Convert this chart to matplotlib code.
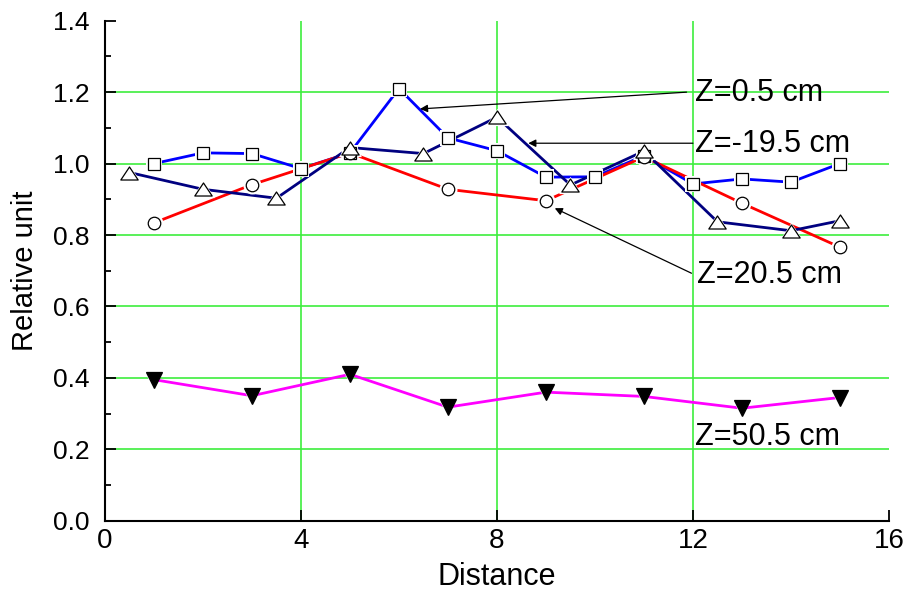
import matplotlib
matplotlib.use("Agg")
import matplotlib.pyplot as plt
from matplotlib.path import Path
from matplotlib.ticker import MultipleLocator, FormatStrFormatter

plt.rcParams['font.family'] = ['Liberation Sans', 'DejaVu Sans']

# Z = 0.5 cm (squares)
x_sq = [1, 2, 3, 4, 5, 6, 7, 8, 9, 10, 11, 12, 13, 14, 15]
y_sq = [1.00, 1.03, 1.028, 0.986, 1.03, 1.21, 1.072, 1.036, 0.962, 0.963, 1.022, 0.943, 0.957, 0.948, 1.00]

# Z = 20.5 cm (circles)
x_ci = [1, 3, 5, 7, 9, 11, 13, 15]
y_ci = [0.834, 0.941, 1.03, 0.928, 0.896, 1.019, 0.889, 0.766]

# Z = -19.5 cm (triangles)
x_tr = [0.5, 2, 3.5, 5, 6.5, 8, 9.5, 11, 12.5, 14, 15]
y_tr = [0.975, 0.928, 0.903, 1.045, 1.028, 1.13, 0.94, 1.035, 0.837, 0.812, 0.84]

# Z = 50.5 cm (filled down triangles)
x_dn = [1, 3, 5, 7, 9, 11, 13, 15]
y_dn = [0.395, 0.35, 0.41, 0.318, 0.36, 0.348, 0.315, 0.345]

fig = plt.figure(figsize=(9.08, 5.92), dpi=100)
ax = fig.add_axes([0.1156, 0.1204, 0.8634, 0.8446])

ax.set_xlim(0, 16)
ax.set_ylim(0, 1.4)

# grid lines at interior major ticks
grid_kw = dict(color='#3DEE3D', lw=1.2, zorder=1)
for gx in (4, 8, 12):
    ax.axvline(gx, **grid_kw)
for gy in (0.2, 0.4, 0.6, 0.8, 1.0, 1.2):
    ax.axhline(gy, **grid_kw)

tri_up = Path([(-1, -0.75), (1, -0.75), (0, 0.75), (-1, -0.75)],
              [Path.MOVETO, Path.LINETO, Path.LINETO, Path.CLOSEPOLY])

series = [
    (x_dn, y_dn, '#FF00FF', 'v', 11, 'black'),
    (x_sq, y_sq, '#0000FF', 's', 8, 'white'),
    (x_ci, y_ci, '#FF0000', 'o', 9, 'white'),
    (x_tr, y_tr, '#000080', tri_up, 12.5, 'white'),
]

for xs, ys, col, mk, ms, fc in series:
    ax.plot(xs, ys, color=col, lw=2.0, zorder=2, solid_capstyle='butt')
for xs, ys, col, mk, ms, fc in series:
    ax.plot(xs, ys, ls='none', marker=mk, ms=ms + 4, mfc='white', mec='white',
            mew=0, zorder=3)
for i, (xs, ys, col, mk, ms, fc) in enumerate(series):
    ax.plot(xs, ys, ls='none', marker=mk, ms=ms, mfc=fc, mec='black',
            mew=0.9, zorder=4 + i)

arrow_kw = dict(arrowstyle='-|>', color='black', lw=0.9, mutation_scale=11,
                shrinkA=0, shrinkB=0)
ax.annotate('', xy=(6.43, 1.153), xytext=(11.87, 1.2), arrowprops=arrow_kw, zorder=10)
ax.annotate('', xy=(8.64, 1.057), xytext=(12.0, 1.057), arrowprops=arrow_kw, zorder=10)
ax.annotate('', xy=(9.18, 0.875), xytext=(11.97, 0.693), arrowprops=arrow_kw, zorder=10)

txt_kw = dict(fontsize=22, ha='left', va='center', zorder=11)
ax.text(12.04, 1.197, 'Z=0.5 cm', **txt_kw)
ax.text(12.04, 1.055, 'Z=-19.5 cm', **txt_kw)
ax.text(12.08, 0.688, 'Z=20.5 cm', **txt_kw)
ax.text(12.04, 0.234, 'Z=50.5 cm', **txt_kw)

ax.xaxis.set_major_locator(MultipleLocator(4))
ax.yaxis.set_major_locator(MultipleLocator(0.2))
ax.yaxis.set_minor_locator(MultipleLocator(0.1))
ax.yaxis.set_major_formatter(FormatStrFormatter('%.1f'))

ax.tick_params(axis='both', which='major', direction='in', length=8, width=1.3)
ax.tick_params(axis='y', which='minor', direction='in', length=4, width=1.3)
ax.tick_params(axis='x', labelsize=20, pad=5)
ax.tick_params(axis='y', labelsize=19, pad=11)

for side in ('top', 'right'):
    ax.spines[side].set_visible(False)
for side in ('left', 'bottom'):
    ax.spines[side].set_linewidth(1.5)

ax.set_xlabel('Distance', fontsize=22, labelpad=6)
ax.set_ylabel('Relative unit', fontsize=21, labelpad=10)

fig.savefig('out.png', dpi=100)
